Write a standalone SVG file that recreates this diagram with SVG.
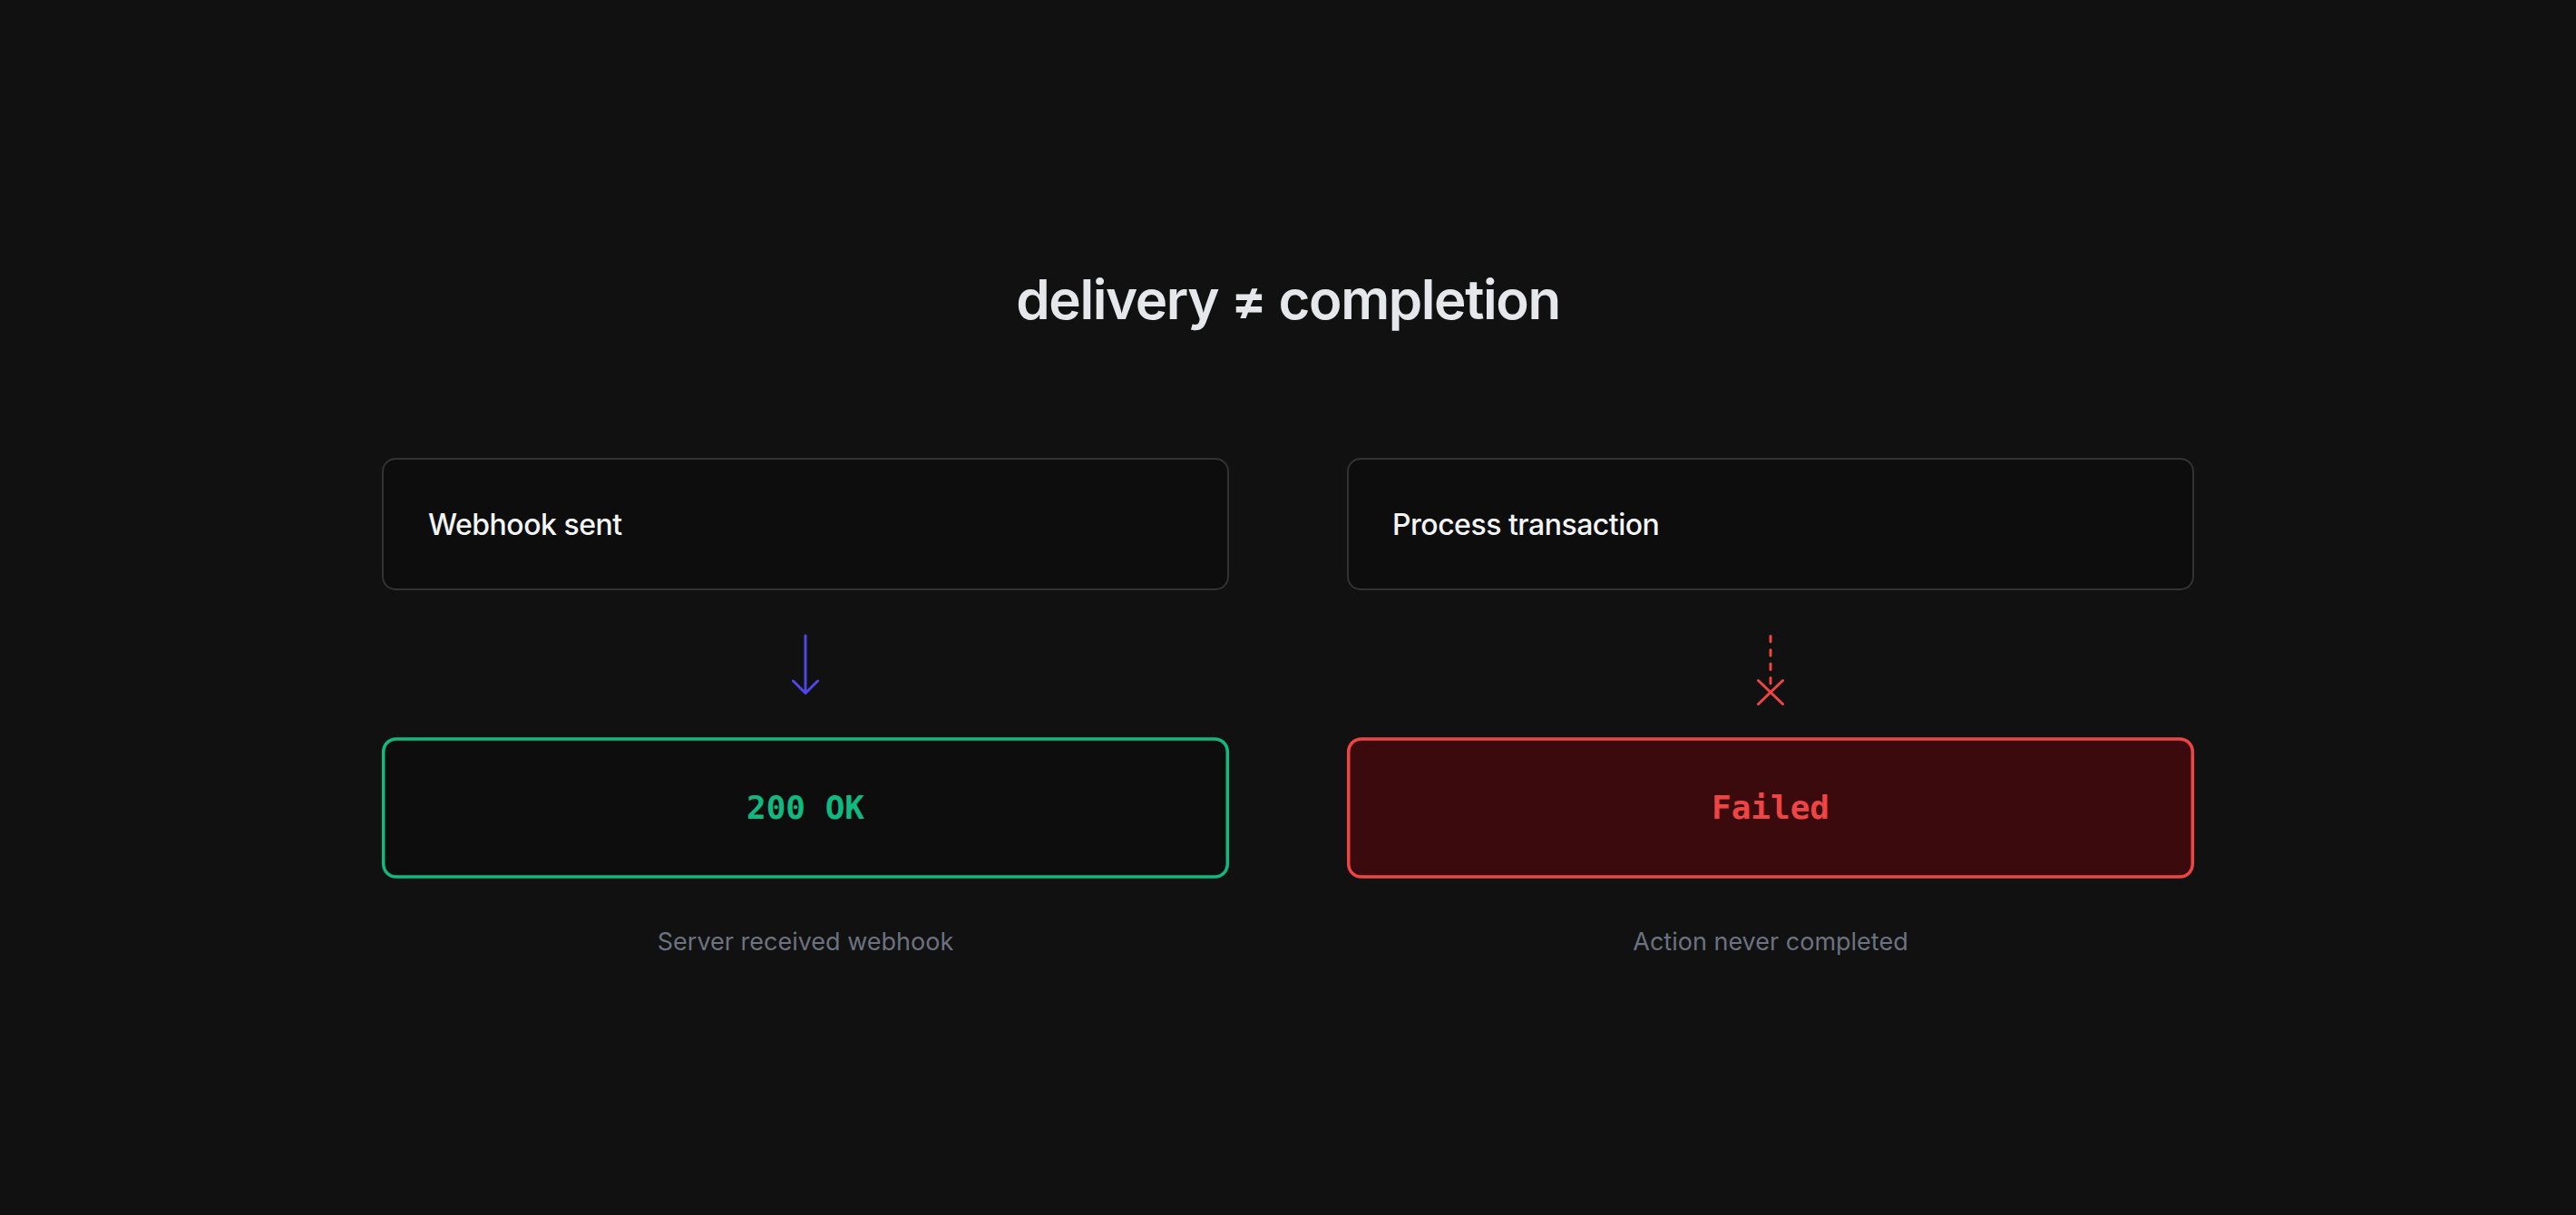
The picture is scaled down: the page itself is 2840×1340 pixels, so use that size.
<svg xmlns="http://www.w3.org/2000/svg" width="2840" height="1340" viewBox="0 0 2840 1340">
<style>
.title{font-family:Inter,"Liberation Sans",sans-serif;font-weight:600;font-size:60px;fill:#e5e7eb;letter-spacing:-1.4px}
.step{fill:#0d0d0d;stroke:#333333;stroke-width:2}
.steptext{font-family:Inter,"Liberation Sans",sans-serif;font-weight:500;font-size:32px;fill:#f3f4f6;letter-spacing:-0.5px}
.mono{font-family:"DejaVu Sans Mono","Liberation Mono",monospace;font-weight:700;font-size:36px}
.caption{font-family:Inter,"Liberation Sans",sans-serif;font-weight:400;font-size:27px;fill:#6b7280}
.ok{stroke:#4f46e5;stroke-width:3;fill:none;stroke-linecap:round;stroke-linejoin:round}
.fail{stroke:#ef4444;stroke-width:3;fill:none;stroke-linecap:round}
</style>
<rect width="2840" height="1340" fill="#111111"/>
<text class="title" x="1420" y="352" text-anchor="middle">delivery ≠ completion</text>
<g id="webhook-sent">
<rect class="step" x="422" y="506" width="932" height="144" rx="14"/>
<text class="steptext" x="472" y="590">Webhook sent</text>
</g>
<g id="process-transaction">
<rect class="step" x="1486" y="506" width="932" height="144" rx="14"/>
<text class="steptext" x="1535" y="590">Process transaction</text>
</g>
<g id="ok-200">
<rect x="422.75" y="815" width="930.5" height="152" rx="14" fill="#0d0d0d" stroke="#10b981" stroke-width="3.5"/>
<text class="mono" x="888" y="903" text-anchor="middle" fill="#10b981">200 OK</text>
</g>
<g id="failed">
<rect x="1486.75" y="815" width="930.5" height="152" rx="14" fill="#3b0a0c" stroke="#ef4444" stroke-width="3.5"/>
<text class="mono" x="1952" y="903" text-anchor="middle" fill="#ef4444">Failed</text>
</g>
<g id="captions">
<text class="caption" x="888" y="1048" text-anchor="middle">Server received webhook</text>
<text class="caption" x="1952" y="1048" text-anchor="middle">Action never completed</text>
</g>
<g id="connectors">
<path class="ok" d="M888 701 V764 M874.5 751 L888 764.5 L901.5 751"/>
<path class="fail" d="M1952 701.5 V757" stroke-dasharray="6.3 9"/>
<path class="fail" d="M1938.5 750.5 L1965.5 776.5 M1965.5 750.5 L1938.5 776.5"/>
</g>
</svg>
